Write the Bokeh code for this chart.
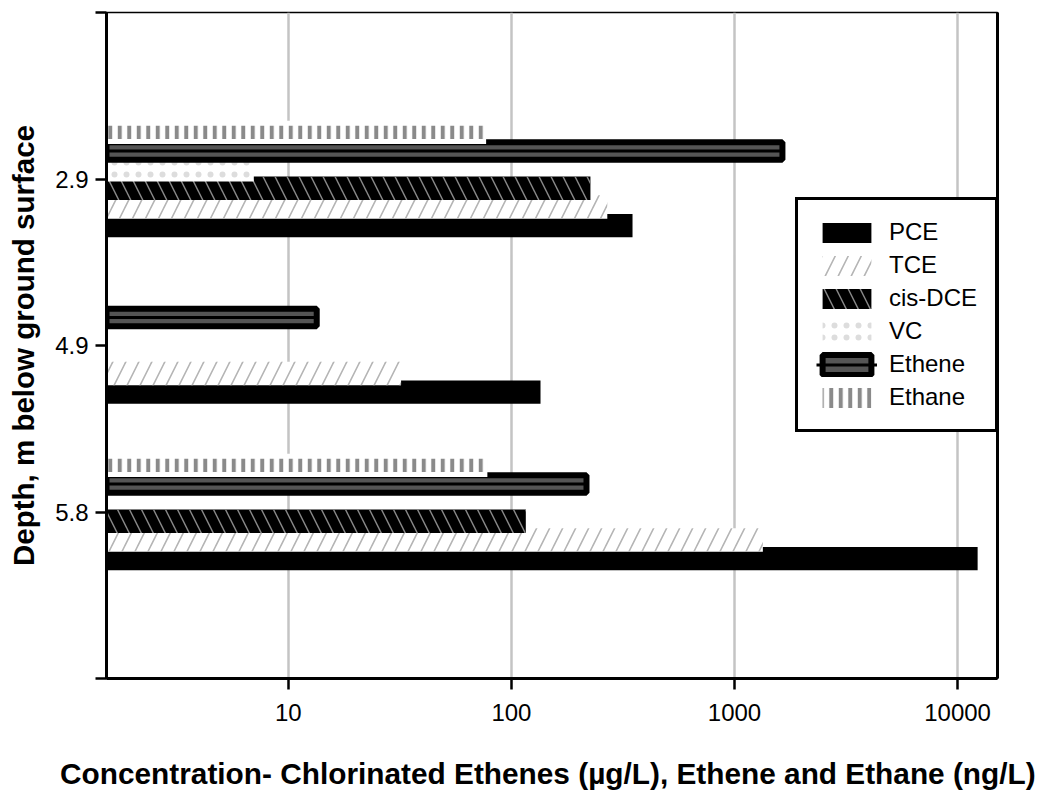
import math
from bokeh.plotting import figure
from bokeh.models import (Range1d, FixedTicker, LinearAxis, Legend, LegendItem,
                          ColumnDataSource)
from bokeh.embed import file_html
from bokeh.resources import INLINE

# ---------------- data ----------------
depths = ["2.9", "4.9", "5.8"]                 # depth, m below ground surface
nan = float("nan")
pce     = [349, 135, 12300]                    # µg/L
tce     = [269, 32, 1340]                      # µg/L
cis_dce = [226, nan, 116]                      # µg/L
vc      = [7.0, nan, nan]                      # µg/L
ethene  = [1640, 13.4, 217]                    # ng/L
ethane  = [77, nan, 78]                        # ng/L
x_ticks = [10, 100, 1000, 10000]
x_tick_labels = ["10", "100", "1000", "10000"]

# slot order inside each depth group, top to bottom
slot_order = ["Ethane", "Ethene", "VC", "cis-DCE", "TCE", "PCE"]
SLOT = 0.112
BAR_H = 0.141
FONT = "Liberation Sans"
X0, X1 = 1.53, 15100


def src(vals, name):
    k = slot_order.index(name)
    off = (k - 2.5) * SLOT
    ys, xs = [], []
    for i, v in enumerate(vals):
        if not (isinstance(v, float) and math.isnan(v)):
            ys.append(i + off)
            xs.append(v)
    return ColumnDataSource(dict(y=ys, right=xs, left=[1.0] * len(xs)))


p = figure(width=1042, height=792, x_axis_type="log",
           x_range=Range1d(X0, X1), y_range=Range1d(3, -1),
           output_backend="svg", toolbar_location=None,
           min_border_left=106, min_border_right=45,
           min_border_top=12, min_border_bottom=112)
p.background_fill_color = "white"
p.border_fill_color = "white"
p.outline_line_color = "black"
p.outline_line_width = 1.5

# bars, drawn bottom slot first so upper bars overlap lower ones
r_pce = p.hbar(y="y", left="left", right="right", height=BAR_H, source=src(pce, "PCE"),
               fill_color="black", line_color=None)
r_tce = p.hbar(y="y", left="left", right="right", height=BAR_H, source=src(tce, "TCE"),
               fill_color="white", line_color=None, hatch_pattern="/",
               hatch_color="#b4b4b4", hatch_scale=26, hatch_weight=1.6)
r_cis = p.hbar(y="y", left="left", right="right", height=BAR_H, source=src(cis_dce, "cis-DCE"),
               fill_color="black", line_color=None, hatch_pattern="\\",
               hatch_color="#8a8a8a", hatch_scale=24, hatch_weight=1.4)
r_vc = p.hbar(y="y", left="left", right="right", height=BAR_H, source=src(vc, "VC"),
              fill_color="white", line_color=None, hatch_pattern=".",
              hatch_color="#dddddd", hatch_scale=12, hatch_weight=1)
eth_src = src(ethene, "Ethene")
r_eth = p.hbar(y="y", left="left", right="right", height=BAR_H - 6 / 167, source=eth_src,
               fill_color="#555555", line_color="black", line_width=6)
r_eth_line = p.segment(x0="left", y0="y", x1="right", y1="y", source=eth_src,
                       line_color="black", line_width=3)
ethane_src = src(ethane, "Ethane")
p.hbar(y="y", left="left", right="right", height=BAR_H, source=ethane_src,
       fill_color="white", line_color=None)
r_ethane = p.hbar(y="y", left="left", right="right", height=0.08, source=ethane_src,
                  fill_color=None, line_color=None, hatch_pattern="|",
                  hatch_color="#8a8a8a", hatch_scale=9.5, hatch_weight=4)

# axes
p.xaxis.ticker = FixedTicker(ticks=x_ticks)
p.xaxis.major_label_overrides = dict(zip(x_ticks, x_tick_labels))
p.xaxis.minor_tick_line_color = None
p.xaxis.major_tick_out = 11
p.xaxis.major_tick_in = 0
p.xaxis.major_tick_line_width = 2.5
p.xaxis.axis_line_width = 3
p.xaxis.major_label_text_font = FONT
p.xaxis.major_label_text_font_size = "24px"
p.xaxis.major_label_text_color = "black"
p.xaxis.major_label_standoff = 14
p.xaxis.axis_label = "Concentration-  Chlorinated Ethenes (µg/L), Ethene and Ethane (ng/L)"
p.xaxis.axis_label_text_font = FONT
p.xaxis.axis_label_text_font_style = "bold"
p.xaxis.axis_label_text_font_size = "29.8px"
p.xaxis.axis_label_text_color = "black"
p.xaxis.axis_label_standoff = 33

y_ticks = [-1, 0, 1, 2, 3]
p.yaxis.ticker = FixedTicker(ticks=y_ticks)
p.yaxis.major_label_overrides = {-1: "", 0: depths[0], 1: depths[1], 2: depths[2], 3: ""}
p.yaxis.minor_tick_line_color = None
p.yaxis.major_tick_out = 11
p.yaxis.major_tick_in = 0
p.yaxis.major_tick_line_width = 2.5
p.yaxis.axis_line_width = 3
p.yaxis.major_label_text_font = FONT
p.yaxis.major_label_text_font_size = "24px"
p.yaxis.major_label_text_color = "black"
p.yaxis.major_label_standoff = 7
p.yaxis.axis_label = "Depth, m below ground surface"
p.yaxis.axis_label_text_font = FONT
p.yaxis.axis_label_text_font_style = "bold"
p.yaxis.axis_label_text_font_size = "29.5px"
p.yaxis.axis_label_text_color = "black"
p.yaxis.axis_label_standoff = 12

right_axis = LinearAxis(ticker=FixedTicker(ticks=[]), axis_line_width=3,
                        major_tick_line_color=None, minor_tick_line_color=None,
                        major_label_text_font_size="0px")
p.add_layout(right_axis, "right")

p.xgrid.ticker = FixedTicker(ticks=x_ticks)
p.xgrid.grid_line_color = "#c4c4c4"
p.xgrid.grid_line_width = 2.5
p.ygrid.grid_line_color = None

legend = Legend(items=[
    LegendItem(label="PCE", renderers=[r_pce]),
    LegendItem(label="TCE", renderers=[r_tce]),
    LegendItem(label="cis-DCE", renderers=[r_cis]),
    LegendItem(label="VC", renderers=[r_vc]),
    LegendItem(label="Ethene", renderers=[r_eth, r_eth_line]),
    LegendItem(label="Ethane", renderers=[r_ethane]),
], location=(689, 246))
legend.border_line_color = "black"
legend.border_line_alpha = 1
legend.border_line_width = 3
legend.padding = 18
legend.spacing = 5
legend.glyph_width = 61
legend.glyph_height = 25
legend.label_height = 25
legend.label_width = 88
legend.label_standoff = 12
legend.label_text_font = FONT
legend.label_text_font_size = "24px"
legend.label_text_color = "black"
legend.margin = 0
legend.background_fill_color = "white"
legend.background_fill_alpha = 1
p.add_layout(legend, "center")

open("out.html", "w").write(file_html(p, INLINE))
